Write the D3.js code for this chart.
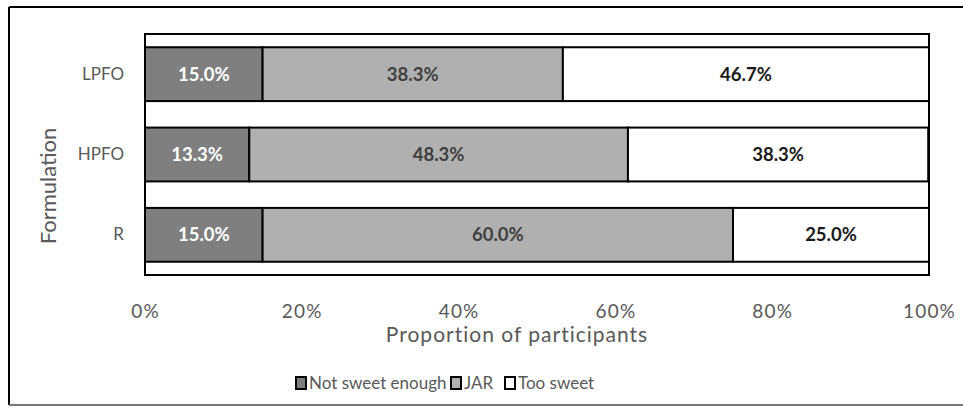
<!DOCTYPE html>
<html>
<head>
<meta charset="utf-8">
<script src="https://cdn.jsdelivr.net/npm/d3@7"></script>
<style>
  html, body { margin: 0; padding: 0; background: #fff; }
  svg { display: block; font-family: Lato, "Liberation Sans", sans-serif; }
</style>
</head>
<body>
<svg id="chart" width="963" height="407"></svg>
<script>
// Sweetness ratings per formulation (share of participants)
const formulations = ["LPFO", "HPFO", "R"];
const notSweetEnough = [15.0, 13.3, 15.0];
const jar = [38.3, 48.3, 60.0];
const tooSweet = [46.7, 38.3, 25.0];
const seriesNames = ["Not sweet enough", "JAR", "Too sweet"];
const xTicks = [0, 20, 40, 60, 80, 100];

const fills = ["#7f7f7f", "#b0b0b0", "#ffffff"];
const labelColors = ["#ffffff", "#404040", "#1a1a1a"];

const svg = d3.select("#chart");
const W = 963;

// outer chart frame
svg.append("line").attr("x1", 9).attr("x2", W).attr("y1", 7).attr("y2", 7)
  .attr("stroke", "#000").attr("stroke-width", 2);
svg.append("line").attr("x1", 9).attr("x2", 9).attr("y1", 7).attr("y2", 405)
  .attr("stroke", "#000").attr("stroke-width", 2);
svg.append("line").attr("x1", 9).attr("x2", W).attr("y1", 405).attr("y2", 405)
  .attr("stroke", "#777").attr("stroke-width", 2);

const plot = { left: 145, right: 929, top: 34, bottom: 275 };

const x = d3.scaleLinear().domain([0, 100]).range([plot.left, plot.right]);
const y = d3.scaleBand().domain(formulations)
  .range([plot.top, plot.bottom]).paddingInner(0.33).paddingOuter(0.165);

const rows = formulations.map((f, i) => {
  const vals = [notSweetEnough[i], jar[i], tooSweet[i]];
  let acc = 0;
  return vals.map((v, k) => {
    const seg = { f, k, v, x0: acc, x1: acc + v };
    acc += v;
    return seg;
  });
});

// plot area border
svg.append("rect")
  .attr("x", plot.left).attr("y", plot.top)
  .attr("width", plot.right - plot.left).attr("height", plot.bottom - plot.top)
  .attr("fill", "none").attr("stroke", "#000").attr("stroke-width", 2);

const segs = svg.append("g").selectAll("g").data(rows.flat()).join("g");
segs.append("rect")
  .attr("x", d => x(d.x0))
  .attr("width", d => x(Math.min(d.x1, 100)) - x(d.x0))
  .attr("y", d => y(d.f))
  .attr("height", y.bandwidth())
  .attr("fill", d => fills[d.k])
  .attr("stroke", "#000").attr("stroke-width", 2);
segs.append("text")
  .attr("x", d => (x(d.x0) + x(Math.min(d.x1, 100))) / 2)
  .attr("y", d => y(d.f) + y.bandwidth() / 2)
  .attr("dy", "0.36em")
  .attr("text-anchor", "middle")
  .attr("font-weight", "bold")
  .attr("font-size", 18.5)
  .attr("fill", d => labelColors[d.k])
  .text(d => d.v.toFixed(1) + "%");

// category axis labels
const yAxis = d3.axisLeft(y).tickSize(0).tickPadding(21);
const gy = svg.append("g").attr("transform", `translate(${plot.left},0)`).call(yAxis);
gy.select(".domain").remove();
gy.selectAll("text").attr("font-size", 17).attr("fill", "#595959")
  .attr("font-family", "Lato, sans-serif");

// value axis
const xAxis = d3.axisBottom(x).tickValues(xTicks).tickSize(0).tickPadding(30)
  .tickFormat(d => d + "%");
const gx = svg.append("g").attr("transform", `translate(0,${plot.bottom})`).call(xAxis);
gx.select(".domain").remove();
gx.selectAll("text").attr("font-size", 19).attr("fill", "#595959")
  .attr("letter-spacing", 1.2)
  .attr("font-family", "Lato, sans-serif");

svg.append("text")
  .attr("x", 517).attr("y", 342)
  .attr("text-anchor", "middle").attr("font-size", 21).attr("fill", "#595959")
  .attr("letter-spacing", 1)
  .text("Proportion of participants");

svg.append("text")
  .attr("transform", `translate(56,186) rotate(-90)`)
  .attr("text-anchor", "middle").attr("font-size", 22).attr("fill", "#595959")
  .text("Formulation");

// legend
const legend = svg.append("g").attr("transform", "translate(0,383)");
const legendX = [296, 451, 505];
seriesNames.forEach((name, k) => {
  const g = legend.append("g").attr("transform", `translate(${legendX[k]},0)`);
  g.append("rect").attr("x", 0).attr("y", -6).attr("width", 10).attr("height", 12)
    .attr("fill", fills[k]).attr("stroke", "#000").attr("stroke-width", 2);
  g.append("text").attr("x", 13).attr("y", 0).attr("dy", "0.36em")
    .attr("font-size", 17).attr("fill", "#595959").text(name);
});
</script>
</body>
</html>
